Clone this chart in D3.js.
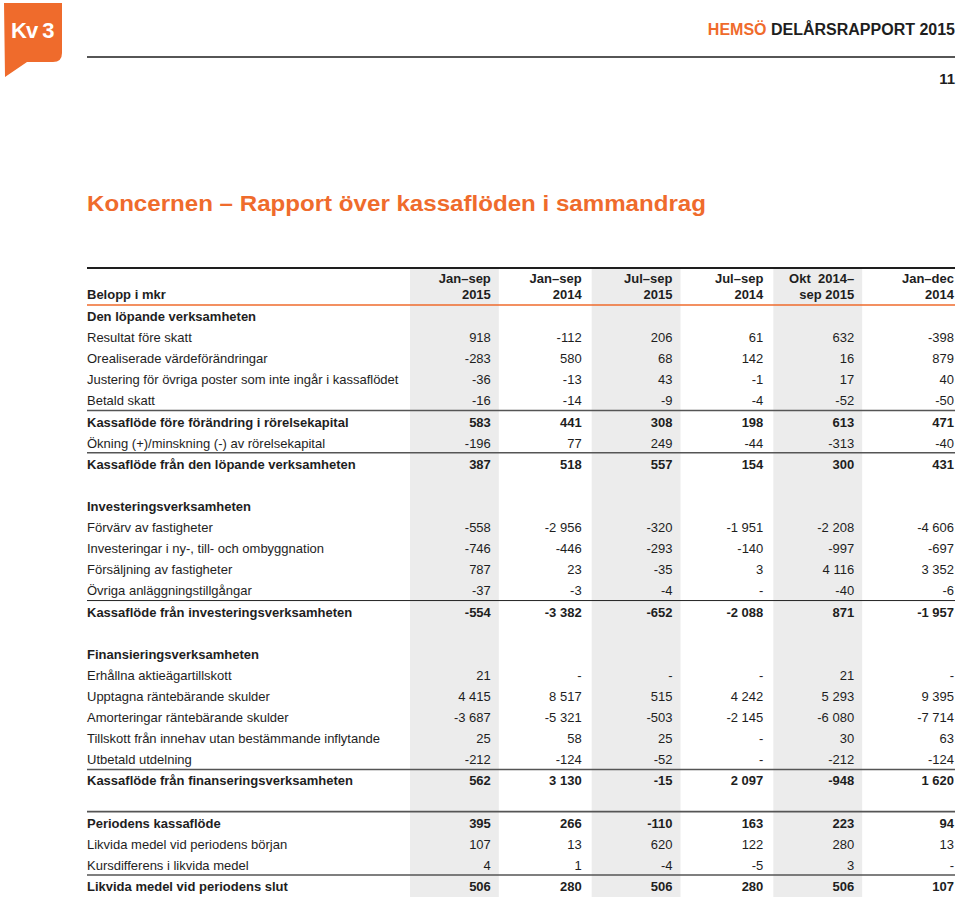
<!DOCTYPE html>
<html>
<head>
<meta charset="utf-8">
<script src="https://cdn.jsdelivr.net/npm/d3@7"></script>
<style>
    body { margin: 0; background: #fff; }
    svg { display: block; font-family: "Liberation Sans", Arial, Helvetica, sans-serif; }
</style>
</head>
<body>
<svg id="chart" width="960" height="899"></svg>
<script>
// Column headers (two lines each)
var columns = [
    ["Jan\u2013sep", "2015"],
    ["Jan\u2013sep", "2014"],
    ["Jul\u2013sep", "2015"],
    ["Jul\u2013sep", "2014"],
    ["Okt\u00a0 2014\u2013", "sep 2015"],
    ["Jan\u2013dec", "2014"]
];

// Row labels and kind: h = section heading, r = normal row, t = subtotal, b = blank
var rowLabels = [
    "Den löpande verksamheten",
    "Resultat före skatt",
    "Orealiserade värdeförändringar",
    "Justering för övriga poster som inte ingår i kassaflödet",
    "Betald skatt",
    "Kassaflöde före förändring i rörelsekapital",
    "Ökning (+)/minskning (-) av rörelsekapital",
    "Kassaflöde från den löpande verksamheten",
    "",
    "Investeringsverksamheten",
    "Förvärv av fastigheter",
    "Investeringar i ny-, till- och ombyggnation",
    "Försäljning av fastigheter",
    "Övriga anläggningstillgångar",
    "Kassaflöde från investeringsverksamheten",
    "",
    "Finansieringsverksamheten",
    "Erhållna aktieägartillskott",
    "Upptagna räntebärande skulder",
    "Amorteringar räntebärande skulder",
    "Tillskott från innehav utan bestämmande inflytande",
    "Utbetald utdelning",
    "Kassaflöde från finanseringsverksamheten",
    "",
    "Periodens kassaflöde",
    "Likvida medel vid periodens början",
    "Kursdifferens i likvida medel",
    "Likvida medel vid periodens slut"
];

var rowKinds = ["h", "r", "r", "r", "r", "t", "r", "t", "b",
                "h", "r", "r", "r", "r", "t", "b",
                "h", "r", "r", "r", "r", "r", "t", "b",
                "t", "r", "r", "t"];

// Values per column, one entry per row (null = "-" or empty)
var janSep2015 = [null, 918, -283, -36, -16, 583, -196, 387, null,
                  null, -558, -746, 787, -37, -554, null,
                  null, 21, 4415, -3687, 25, -212, 562, null,
                  395, 107, 4, 506];
var janSep2014 = [null, -112, 580, -13, -14, 441, 77, 518, null,
                  null, -2956, -446, 23, -3, -3382, null,
                  null, null, 8517, -5321, 58, -124, 3130, null,
                  266, 13, 1, 280];
var julSep2015 = [null, 206, 68, 43, -9, 308, 249, 557, null,
                  null, -320, -293, -35, -4, -652, null,
                  null, null, 515, -503, 25, -52, -15, null,
                  -110, 620, -4, 506];
var julSep2014 = [null, 61, 142, -1, -4, 198, -44, 154, null,
                  null, -1951, -140, 3, null, -2088, null,
                  null, null, 4242, -2145, null, null, 2097, null,
                  163, 122, -5, 280];
var oktSep = [null, 632, 16, 17, -52, 613, -313, 300, null,
              null, -2208, -997, 4116, -40, 871, null,
              null, 21, 5293, -6080, 30, -212, -948, null,
              223, 280, 3, 506];
var janDec2014 = [null, -398, 879, 40, -50, 471, -40, 431, null,
                  null, -4606, -697, 3352, -6, -1957, null,
                  null, null, 9395, -7714, 63, -124, 1620, null,
                  94, 13, null, 107];

var series = [janSep2015, janSep2014, julSep2015, julSep2014, oktSep, janDec2014];

var orange = "#ef6b2c",
    ink = "#1e1e1e",
    left = 87,
    right = 955,
    svg = d3.select("#chart");

var locale = d3.formatLocale({ decimal: ",", thousands: " ", grouping: [3], currency: ["", " kr"], minus: "-" }),
    fmt = locale.format(",d");

var x = d3.scaleBand()
    .domain(d3.range(columns.length))
    .range([410, right]);

var y = d3.scaleLinear()
    .domain([0, rowLabels.length - 1])
    .range([316, 886]);

var colRight = function (i) {
    return i === columns.length - 1 ? right - 1 : x(i) + x.bandwidth() - 10;
};

// Page header
var logo = svg.append("g").attr("class", "logo");
logo.append("path")
    .attr("d", "M4,3H62V53Q62,62 53,62H27L5,77Z")
    .attr("fill", orange);
logo.append("text")
    .attr("x", 11)
    .attr("y", 38)
    .attr("fill", "#fff")
    .style("font-size", "22px")
    .style("font-weight", "bold")
    .style("letter-spacing", "-1px")
    .text("Kv 3");

svg.append("line")
    .attr("x1", left).attr("x2", right)
    .attr("y1", 57).attr("y2", 57)
    .attr("stroke", ink)
    .attr("stroke-width", 1.5);

var brand = svg.append("text")
    .attr("x", right)
    .attr("y", 35)
    .attr("text-anchor", "end")
    .style("font-size", "16px")
    .style("font-weight", "bold")
    .attr("fill", ink);
brand.append("tspan").attr("fill", orange).text("HEMSÖ ");
brand.append("tspan").text("DELÅRSRAPPORT 2015");

svg.append("text")
    .attr("x", right)
    .attr("y", 84)
    .attr("text-anchor", "end")
    .style("font-size", "15px")
    .style("font-weight", "bold")
    .attr("fill", ink)
    .text("11");

svg.append("text")
    .attr("x", left)
    .attr("y", 211)
    .attr("fill", orange)
    .attr("textLength", 619)
    .attr("lengthAdjust", "spacingAndGlyphs")
    .style("font-size", "22px")
    .style("font-weight", "bold")
    .text("Koncernen \u2013 Rapport över kassaflöden i sammandrag");

// Shaded columns
svg.append("g")
    .selectAll("rect")
    .data(d3.range(columns.length).filter(function (i) { return i % 2 === 0 && i < columns.length - 1; }))
    .enter()
    .append("rect")
    .attr("x", function (i) { return x(i); })
    .attr("y", 269)
    .attr("width", x.bandwidth() - 2)
    .attr("height", 897 - 269)
    .attr("fill", "#ececec");

svg.append("line")
    .attr("x1", left).attr("x2", right)
    .attr("y1", 268).attr("y2", 268)
    .attr("stroke", ink)
    .attr("stroke-width", 2);

svg.append("line")
    .attr("x1", left).attr("x2", right)
    .attr("y1", 305).attr("y2", 305)
    .attr("stroke", orange)
    .attr("stroke-width", 1.5);

// Column headers
var head = svg.append("g")
    .style("font-size", "13px")
    .style("font-weight", "bold")
    .attr("fill", ink);

head.append("text")
    .attr("x", left)
    .attr("y", 299)
    .text("Belopp i mkr");

head.selectAll(".col-head")
    .data(columns)
    .enter()
    .append("text")
    .attr("class", "col-head")
    .attr("text-anchor", "end")
    .attr("x", function (d, i) { return colRight(i); })
    .attr("y", 283)
    .each(function (d, i) {
        var t = d3.select(this);
        t.append("tspan").attr("x", colRight(i)).attr("dy", 0).text(d[0]);
        t.append("tspan").attr("x", colRight(i)).attr("dy", 16).text(d[1]);
    });

// Separator lines above subtotal rows
var sepRows = d3.range(rowLabels.length).filter(function (i) { return rowKinds[i] === "t"; });

svg.append("g")
    .selectAll("line")
    .data(sepRows)
    .enter()
    .append("line")
    .attr("x1", left).attr("x2", right)
    .attr("y1", function (i) { return y(i) - 11; })
    .attr("y2", function (i) { return y(i) - 11; })
    .attr("stroke", function (i) { return i === 14 ? "#222" : "#555"; })
    .attr("stroke-width", function (i) { return i === 14 ? 1 : 1.6; });

// Rows
var rows = svg.append("g")
    .style("font-size", "13px")
    .attr("fill", ink)
    .selectAll(".row")
    .data(rowLabels.map(function (label, i) { return { label: label, kind: rowKinds[i], index: i }; }))
    .enter()
    .append("g")
    .attr("class", "row")
    .attr("transform", function (d) { return "translate(0," + (y(d.index) + 5) + ")"; })
    .style("font-weight", function (d) { return d.kind === "r" ? "normal" : "bold"; });

rows.append("text")
    .attr("x", left)
    .text(function (d) { return d.label; });

rows.filter(function (d) { return d.kind === "r" || d.kind === "t"; })
    .selectAll(".val")
    .data(function (d) {
        return series.map(function (s, c) { return { value: s[d.index], col: c }; });
    })
    .enter()
    .append("text")
    .attr("class", "val")
    .attr("text-anchor", "end")
    .attr("x", function (d) { return colRight(d.col); })
    .text(function (d) { return d.value === null ? "-" : fmt(d.value); });
</script>
</body>
</html>
